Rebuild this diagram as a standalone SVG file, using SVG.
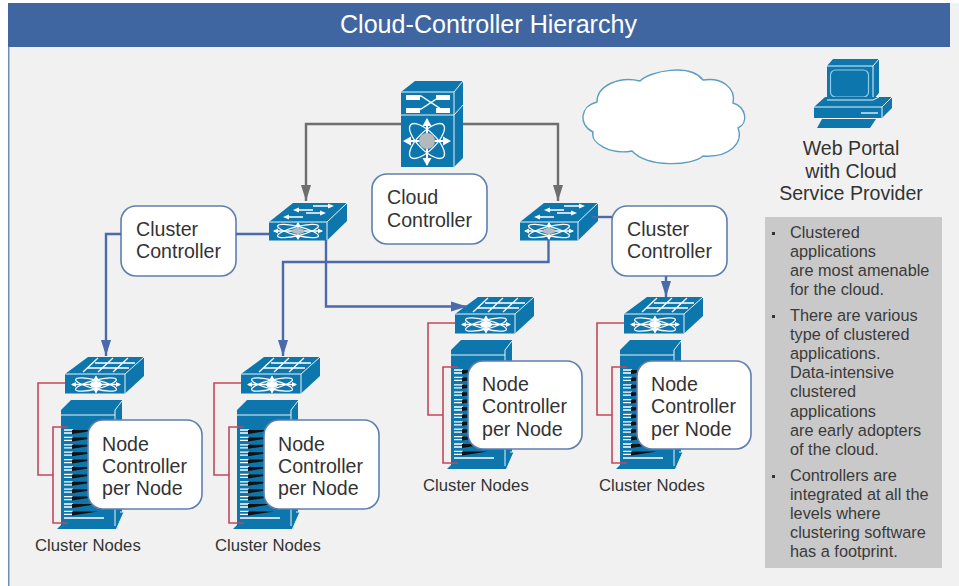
<svg xmlns="http://www.w3.org/2000/svg" width="959" height="586" viewBox="0 0 959 586">
<style>
text{font-family:"Liberation Sans",Arial,sans-serif;fill:#333}
.t{font-size:19.6px}
.s{font-size:16.7px}
.p{font-size:16.3px;fill:#3a3a3a}
.box{fill:#fff;stroke:#5f7fae;stroke-width:1.6}
.ic{fill:#0c76ad}
.ed{stroke:#e8f3f8;stroke-width:1;fill:none}
.w{stroke:#fff;stroke-width:1.3;fill:none}
.wf{fill:#fff}
.g{fill:none;stroke:#6d6e70;stroke-width:2.4}
.b{fill:none;stroke:#4a6aa9;stroke-width:2.4}
.r{fill:none;stroke:#c2475c;stroke-width:1.6}
</style>
<defs>
<marker id="ag" markerUnits="userSpaceOnUse" markerWidth="17" markerHeight="12" refX="16" refY="5.5" orient="auto"><path d="M0 0.5L16 5.5L0 10.5Z" fill="#6d6e70"/></marker>
<marker id="ab" markerUnits="userSpaceOnUse" markerWidth="17" markerHeight="12" refX="16" refY="5.5" orient="auto"><path d="M0 0.5L16 5.5L0 10.5Z" fill="#4a6aa9"/></marker>
<g id="atom">
<ellipse cx="0" cy="0" rx="21" ry="4.500" class="w" transform="rotate(14)"/>
<ellipse cx="0" cy="0" rx="21" ry="4.500" class="w" transform="rotate(-14)"/>
<path d="M-24 0H24M0 -8V8" class="w"/>
<path d="M-25 0l5 -2.500v5ZM25 0l-5 -2.500v5ZM0 -9l-2.500 4h5ZM0 9l-2.500 -4h5Z" class="wf"/>
</g>
<g id="sw-arrows">
<path d="M269 222L293 203H347V221L327 240.500H269Z" class="ic"/>
<path d="M269 222H327L347 203M327 222V240.500" class="ed"/>
<path d="M297 210H313M313 206H330M287 217H303M306 213H322" class="w"/>
<path d="M293 210l6 -2.500v5ZM334 206l-6 -2.500v5ZM283 217l6 -2.500v5ZM326 213l-6 -2.500v5Z" class="wf"/>
<use href="#atom" x="298" y="231"/>
<ellipse cx="298" cy="231" rx="6.500" ry="3" fill="#b5bcc0"/>
</g>
<g id="sw-grid">
<path d="M65 374L88 357H144V376L125 393.500H65Z" class="ic"/>
<path d="M65 374H125L144 357M125 374V393.500" class="ed"/>
<path d="M87 368H129M95 363H135M83 372L98 358M98 372L113 358M113 372L128 358" class="w"/>
<use href="#atom" x="96" y="384.500"/>
<ellipse cx="96" cy="384.500" rx="6" ry="3.500" fill="#fff"/>
</g>
<g id="tower">
<path d="M61 410L71 400H122V512L117 529H57L61 525Z" class="ic"/>
<path d="M61 415H115M115 410L122 401M115 410V526" class="ed"/>
<path d="M120 512L124 512L116 530" fill="#0c76ad" stroke="#e8f3f8" stroke-width="1"/>
<g id="slots">
<path d="M64 430H73M64 433H72" class="w"/><path d="M72 430H98L72 434Z" fill="#111"/>
</g>
<use href="#slots" y="7.400"/><use href="#slots" y="14.800"/><use href="#slots" y="22.200"/><use href="#slots" y="29.600"/><use href="#slots" y="37"/><use href="#slots" y="44.400"/><use href="#slots" y="51.800"/><use href="#slots" y="59.200"/><use href="#slots" y="66.600"/><use href="#slots" y="74"/><use href="#slots" y="81.400"/>
<path d="M64 518H104" class="w"/>
</g>
</defs>

<rect x="8" y="3" width="951" height="583" fill="#f1f1f1"/>
<rect x="8" y="47" width="1.500" height="539" fill="#6f8db8"/>
<g id="header">
<rect x="8" y="3" width="942" height="44" fill="#3f66a0"/>
<text x="488.500" y="33" text-anchor="middle" font-size="25.100" style="fill:#fff">Cloud-Controller Hierarchy</text>
</g>

<g id="cloud">
<path d="M640 81C650 71 690 63 703 80C722 77 736 88 733 103C746 107 749 123 738 128C744 142 730 158 703 156C692 166 648 168 632 151C610 155 590 143 593 132C578 125 580 106 597 102C597 85 620 76 640 81Z" fill="#fff" stroke="#5f9dc0" stroke-width="1.400"/>
</g>

<g id="web-portal">
<path d="M827 66L833 59H879V93L873 100H827Z" class="ic"/>
<path d="M827 66H873L879 59M873 66V100" class="ed"/>
<rect x="830.500" y="70" width="38" height="27" rx="5" fill="none" stroke="#8fcbe6" stroke-width="1.200"/>
<path d="M814 107L825 97H892V108L882 118H814Z" class="ic"/>
<path d="M827 100H873L879 97M814 107H882L892 97M882 107V118" class="ed"/>
<path d="M861 113H878" stroke="#cfe8f3" stroke-width="1.500"/>
<path d="M822 119H876L870 128H817Z" class="ic"/>
<text x="851" y="155" text-anchor="middle" class="t">Web Portal</text>
<text x="851" y="178" text-anchor="middle" class="t">with Cloud</text>
<text x="851" y="200" text-anchor="middle" class="t">Service Provider</text>
</g>

<g id="cloud-controller">
<path d="M401 92L415 81H463V158L454 167H401Z" class="ic"/>
<path d="M401 92H454L463 81M454 92V167M401 115H454L463 105" class="ed"/>
<path d="M407 96H421L441 109H450M407 109H421L441 96H450" class="w"/>
<rect x="406" y="95" width="14" height="5" class="wf"/><rect x="406" y="108" width="14" height="5" class="wf"/>
<rect x="436" y="95" width="14" height="5" class="wf"/><rect x="436" y="108" width="14" height="5" class="wf"/>
<ellipse cx="427" cy="141" rx="23" ry="9" class="w" transform="rotate(45 427 141)"/>
<ellipse cx="427" cy="141" rx="23" ry="9" class="w" transform="rotate(-45 427 141)"/>
<path d="M405 141H449M427 119V165" stroke="#fff" stroke-width="2"/>
<path d="M403 141l8 -4.500v9ZM451 141l-8 -4.500v9ZM427 118l-4.500 8h9ZM427 166l-4.500 -8h9Z" class="wf"/>
<circle cx="427" cy="141" r="8" fill="#b5b9bc"/>
<rect x="372" y="174" width="115" height="70" rx="15" class="box"/>
<text x="387" y="204" class="t">Cloud</text>
<text x="387" y="227" class="t">Controller</text>
</g>

<g id="cluster-controller-left">
<use href="#sw-arrows"/>
<rect x="121" y="206" width="115" height="70" rx="15" class="box"/>
<text x="136" y="236" class="t">Cluster</text>
<text x="136" y="258" class="t">Controller</text>
</g>

<g id="cluster-controller-right">
<use href="#sw-arrows" x="251"/>
<rect x="612" y="206" width="115" height="70" rx="15" class="box"/>
<text x="627" y="236" class="t">Cluster</text>
<text x="627" y="258" class="t">Controller</text>
</g>

<g id="cluster-a">
<use href="#sw-grid"/><use href="#tower"/>
<rect x="88" y="420" width="114" height="89" rx="15" class="box"/>
<text x="102" y="451" class="t">Node</text><text x="102" y="473" class="t">Controller</text><text x="102" y="495" class="t">per Node</text>
<text x="35" y="551" class="s">Cluster Nodes</text>
</g>
<g id="cluster-b">
<use href="#sw-grid" x="176"/><use href="#tower" x="176"/>
<rect x="264" y="420" width="115" height="89" rx="15" class="box"/>
<text x="278" y="451" class="t">Node</text><text x="278" y="473" class="t">Controller</text><text x="278" y="495" class="t">per Node</text>
<text x="215" y="551" class="s">Cluster Nodes</text>
</g>
<g id="cluster-c">
<use href="#sw-grid" x="390" y="-60"/><use href="#tower" x="390" y="-60"/>
<rect x="468" y="361" width="114" height="88" rx="15" class="box"/>
<text x="482" y="391" class="t">Node</text><text x="482" y="413" class="t">Controller</text><text x="482" y="436" class="t">per Node</text>
<text x="423" y="491" class="s">Cluster Nodes</text>
</g>
<g id="cluster-d">
<use href="#sw-grid" x="559" y="-60"/><use href="#tower" x="559" y="-60"/>
<rect x="637" y="361" width="114" height="88" rx="15" class="box"/>
<text x="651" y="391" class="t">Node</text><text x="651" y="413" class="t">Controller</text><text x="651" y="436" class="t">per Node</text>
<text x="599" y="491" class="s">Cluster Nodes</text>
</g>

<g id="notes">
<rect x="765" y="217" width="177" height="351" fill="#c9c9c9"/>
<g fill="#333">
<rect x="772" y="232" width="3" height="3"/><rect x="772" y="315" width="3" height="3"/><rect x="772" y="475" width="3" height="3"/>
</g>
<text class="p" x="790" y="238">Clustered</text>
<text class="p" x="790" y="257">applications</text>
<text class="p" x="790" y="276">are most amenable</text>
<text class="p" x="790" y="295">for the cloud.</text>
<text class="p" x="790" y="321">There are various</text>
<text class="p" x="790" y="340">type of clustered</text>
<text class="p" x="790" y="359">applications.</text>
<text class="p" x="790" y="378">Data-intensive</text>
<text class="p" x="790" y="397">clustered</text>
<text class="p" x="790" y="417">applications</text>
<text class="p" x="790" y="436">are early adopters</text>
<text class="p" x="790" y="455">of the cloud.</text>
<text class="p" x="790" y="481">Controllers are</text>
<text class="p" x="790" y="500">integrated at all the</text>
<text class="p" x="790" y="519">levels where</text>
<text class="p" x="790" y="538">clustering software</text>
<text class="p" x="790" y="557">has a footprint.</text>
</g>

<g id="connectors">
<path class="g" marker-end="url(#ag)" d="M401 124H306V201"/>
<path class="g" marker-end="url(#ag)" d="M463 124H558V201"/>
<path class="b" marker-end="url(#ab)" d="M121 234H106V356"/>
<path class="b" d="M236 234H269"/>
<path class="b" marker-end="url(#ab)" d="M326 240V306.500H467"/>
<path class="b" marker-end="url(#ab)" d="M548.500 240V262H283V356"/>
<path class="b" d="M592 217H612"/>
<path class="b" marker-end="url(#ab)" d="M666 276V297"/>
<path class="r" d="M65 383H38V475H53M68 427H53V523H68"/>
<path class="r" d="M241 383H214V475H229M244 427H229V523H244"/>
<path class="r" d="M455 323H428V415H443M458 367H443V463H458"/>
<path class="r" d="M624 323H597V415H612M627 367H612V463H627"/>
</g>
</svg>
